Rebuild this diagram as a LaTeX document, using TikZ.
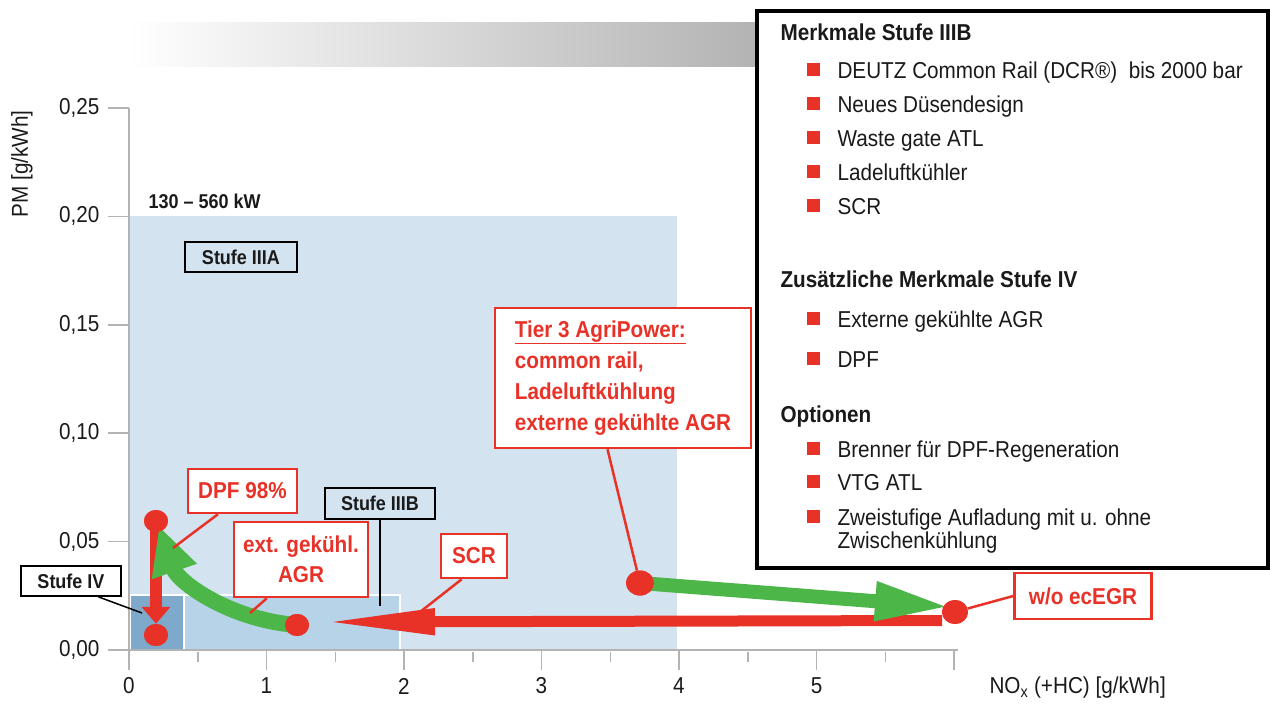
\documentclass[tikz,border=0pt]{standalone}
\usepackage{fontspec}
\setmainfont[FakeStretch=0.9]{Liberation Sans}
\usetikzlibrary{shapes.geometric}
\usetikzlibrary{arrows.meta}
\usetikzlibrary{positioning}
\usetikzlibrary{calc}

\definecolor{dred}{HTML}{E83228}
\definecolor{dgreen}{HTML}{4CB748}
\definecolor{stufeA}{HTML}{D3E3EF}
\definecolor{stufeB}{HTML}{B7D3E8}
\definecolor{stufeIV}{HTML}{7EA9CB}
\definecolor{axisgray}{HTML}{B3B3B3}
\definecolor{bargray}{HTML}{B3B3B3}
\definecolor{ink}{HTML}{1A1A1A}

\begin{document}
\begin{tikzpicture}[x=1pt,y=-1pt]
  \tikzstyle{every node}=[font=\fontsize{23}{31}\selectfont, text=ink]
  \tikzstyle{listhead}=[font=\bfseries\fontsize{23}{31}\selectfont, anchor=base west]
  \tikzstyle{listentry}=[anchor=base west]
  \tikzstyle{stufebox}=[draw=black, line width=1.8pt, font=\bfseries\fontsize{20}{24}\selectfont, inner sep=0pt]
  \tikzstyle{redbox}=[draw=dred, line width=2.5pt, fill=white, text=dred, font=\bfseries\fontsize{23}{30}\selectfont, align=center, inner sep=0pt]
  \tikzstyle{reddot}=[ellipse, fill=dred, inner sep=0pt, minimum width=24pt, minimum height=22pt]
  \tikzstyle{pointer}=[draw=dred, line width=2.5pt]
  \tikzstyle{axisline}=[draw=axisgray, line width=1.5pt]
  \useasboundingbox (0,0) rectangle (1270,704);

  % grey bar on top
  \shade[left color=white, right color=bargray] (128,22) rectangle (757,66);

  % limit areas
  \fill[stufeA] (130,216) rectangle (677,650);
  \draw[white, line width=1.5pt, fill=stufeB] (130,595) rectangle (400,650);
  \draw[white, line width=1.5pt, fill=stufeIV] (130,595) rectangle (184,650);

  % axes
  \draw[axisline] (129,108) -- (129,650) -- (958,650);
  \foreach \i/\l in {0/{0,00},1/{0,05},2/{0,10},3/{0,15},4/{0,20},5/{0,25}} {
    \draw[axisline] (108,{650-108.4*\i}) -- (129,{650-108.4*\i});
    \node[anchor=east] (ylab\i) at (103,{650-108.4*\i}) {\l};
  }
  \foreach \i in {0,...,6}
    \draw[axisline] ({129+137.5*\i},650) -- ({129+137.5*\i},670);
  \foreach \i in {0,...,5}
    \draw[axisline] ({197.75+137.5*\i},652) -- ({197.75+137.5*\i},662);
  \foreach \i in {0,...,5}
    \node (xlab\i) at ({129+137.5*\i},686) {\i};
  \node[rotate=90] (ylabel) at (22,164) {PM [g/kWh]};
  \node[anchor=west] (xlabel) at (986,688) {NO\textsubscript{x} (+HC) [g/kWh]};

  \node[anchor=base west, font=\bfseries\fontsize{20}{24}\selectfont] (power) at (145,208) {130 – 560 kW};

  % stage labels
  \node[stufebox, minimum width=112pt, minimum height=30pt] (stufeA) at (241,257) {Stufe IIIA};
  \node[stufebox, minimum width=110pt, minimum height=31pt] (stufeB) at (380,503.5) {Stufe IIIB};
  \node[stufebox, fill=white, minimum width=100pt, minimum height=30pt] (stufeIV) at (71,581) {Stufe IV};
  \coordinate (bend) at (380,606);
  \coordinate (ivend) at (142,613);
  \draw[black, line width=1.5pt] (stufeB.south) -- (bend);
  \draw[black, line width=1.5pt] ($(stufeIV.south west)!0.77!(stufeIV.south east)$) -- (ivend);

  % points
  \node[reddot] (dpftop) at (156,521) {};
  \node[reddot] (dpfbot) at (156,635) {};
  \node[reddot] (agrdot) at (297,625) {};
  \node[reddot, minimum width=28pt, minimum height=25pt] (t3dot) at (640,583) {};
  \node[reddot, minimum width=26pt, minimum height=24pt] (wodot) at (955,612) {};
  \coordinate (scrstart) at (942,620.5);
  \coordinate (scrtip) at (322,622);
  \coordinate (agrtip) at (159,526);
  \coordinate (gtip) at (950,607);

  % arrows
  \draw[dred, line width=11pt, -{Triangle[length=113pt,width=24pt]}] (scrstart) -- (scrtip);
  \draw[dred, line width=12pt, -{Triangle[length=17pt,width=28pt]}] (dpftop.center) -- (dpfbot.north);
  \draw[dgreen, line width=16pt, -{Triangle[length=48pt,width=44pt]}] (agrdot.center) .. controls (230,620) and (178,582) .. (agrtip);
  \draw[dgreen, line width=14pt, -{Triangle[length=75pt,width=36pt]}] (t3dot.center) -- (gtip);
  \node[reddot] at (dpftop) {};
  \node[reddot] at (dpfbot) {};
  \node[reddot] at (agrdot) {};
  \node[reddot, minimum width=28pt, minimum height=25pt] at (t3dot) {};
  \node[reddot, minimum width=26pt, minimum height=24pt] at (wodot) {};

  % callouts
  \node[redbox, minimum width=109pt, minimum height=44pt] (dpfbox) at (242.5,491) {DPF 98\%};
  \node[redbox, minimum width=134pt, minimum height=75pt] (agrbox) at (301,559.5) {ext. gekühl.\\AGR};
  \node[redbox, minimum width=66pt, minimum height=44pt] (scrbox) at (474,556) {SCR};
  \node[redbox, align=left, font=\bfseries\fontsize{23}{31}\selectfont, minimum width=256pt, minimum height=140pt] (t3box) at (623,378)
    {\underline{Tier 3 AgriPower:}\\common rail,\\Ladeluftkühlung\\externe gekühlte AGR};
  \node[redbox, minimum width=137pt, minimum height=46pt] (wobox) at (1083,596) {w/o ecEGR};
  \coordinate (dpfend) at (173,548);
  \coordinate (agrend) at (250,613);
  \coordinate (scrend) at (420,612);
  \draw[pointer] ($(dpfbox.south west)!0.28!(dpfbox.south east)$) -- (dpfend);
  \draw[pointer] ($(agrbox.south west)!0.25!(agrbox.south east)$) -- (agrend);
  \draw[pointer] ($(scrbox.south west)!0.32!(scrbox.south east)$) -- (scrend);
  \draw[pointer] ($(t3box.south west)!0.44!(t3box.south east)$) -- (t3dot);
  \draw[pointer] (wodot) -- (wobox.west);

  % feature list
  \draw[black, line width=4pt, fill=white] (757,11) rectangle (1268,568);
  \node[listhead] (headB) at (777,40) {Merkmale Stufe IIIB};
  \node[listhead] (headIV) at (777,287) {Zusätzliche Merkmale Stufe IV};
  \node[listhead] (headopt) at (777,422) {Optionen};
  \foreach \y/\t in {78/{DEUTZ Common Rail (DCR®)\ \ bis 2000 bar}, 112/{Neues Düsendesign},
      146/{Waste gate ATL}, 180/{Ladeluftkühler}, 214/{SCR}, 327/{Externe gekühlte AGR},
      367/{DPF}, 457/{Brenner für DPF-Regeneration}, 490/{VTG ATL},
      525/{Zweistufige Aufladung mit u. ohne}} {
    \fill[dred] (807,{\y-15}) rectangle +(13,13);
    \node[listentry] (item\y) at (834,\y) {\t};
  }
  \node[listentry] (item548) at (834,548) {Zwischenkühlung};
\end{tikzpicture}
\end{document}
